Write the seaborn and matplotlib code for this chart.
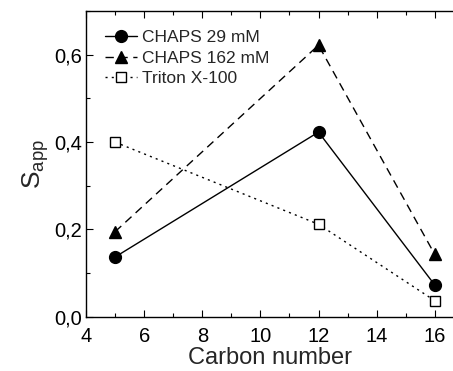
import matplotlib
matplotlib.use("Agg")

import matplotlib.pyplot as plt
import seaborn as sns
import pandas as pd
from matplotlib.ticker import MultipleLocator, FuncFormatter

# ------------------------ DATA --------------------------
carbon = [5, 12, 16]
chaps_29 = [0.137, 0.423, 0.073]
chaps_162 = [0.195, 0.622, 0.143]
triton = [0.400, 0.212, 0.037]

SERIES = [
    ("CHAPS 29 mM", chaps_29, "-", "o", "black"),
    ("CHAPS 162 mM", chaps_162, (0, (6, 4)), "^", "black"),
    ("Triton X-100", triton, (0, (1.5, 3)), "s", "white"),
]


def main():
    sns.set_style("ticks")
    plt.rcParams["font.family"] = ["Liberation Sans", "DejaVu Sans"]

    fig = plt.figure(figsize=(4.53, 3.71), dpi=100)
    ax = fig.add_axes([0.19, 0.146, 0.812, 0.824])

    for name, vals, ls, mk, fc in SERIES:
        df = pd.DataFrame({"x": carbon, "y": vals})
        sns.lineplot(data=df, x="x", y="y", ax=ax, color="black",
                     linestyle=ls, linewidth=1.0, marker=mk,
                     markersize=8.5 if mk != "s" else 7.5,
                     markerfacecolor=fc, markeredgecolor="black",
                     markeredgewidth=1.0, label=name)

    ax.set_xlim(4, 16.66)
    ax.set_ylim(0, 0.70)
    ax.xaxis.set_major_locator(MultipleLocator(2))
    ax.xaxis.set_minor_locator(MultipleLocator(1))
    ax.yaxis.set_major_locator(MultipleLocator(0.2))
    ax.yaxis.set_minor_locator(MultipleLocator(0.1))
    ax.yaxis.set_major_formatter(FuncFormatter(lambda v, p: f"{v:.1f}".replace(".", ",")))

    ax.tick_params(which="both", direction="in", top=True, right=False,
                   labelsize=14.5, colors="black", pad=3)
    ax.tick_params(axis="x", which="major", pad=7)
    ax.tick_params(which="major", length=5, width=0.8)
    ax.tick_params(which="minor", length=3, width=0.8)
    for s in ax.spines.values():
        s.set_linewidth(1.0)
        s.set_color("black")
    ax.spines["right"].set_visible(False)

    ax.set_xlabel("Carbon number", fontsize=17, labelpad=1)
    ax.set_ylabel("S$_{\\mathregular{app}}$", fontsize=19, labelpad=2)

    ax.legend(loc="upper left", frameon=False, fontsize=12.5,
              handlelength=1.85, handletextpad=0.25, labelspacing=0.3,
              borderaxespad=0.7)

    fig.savefig("out.png", dpi=100)
    plt.close(fig)


if __name__ == "__main__":
    main()
